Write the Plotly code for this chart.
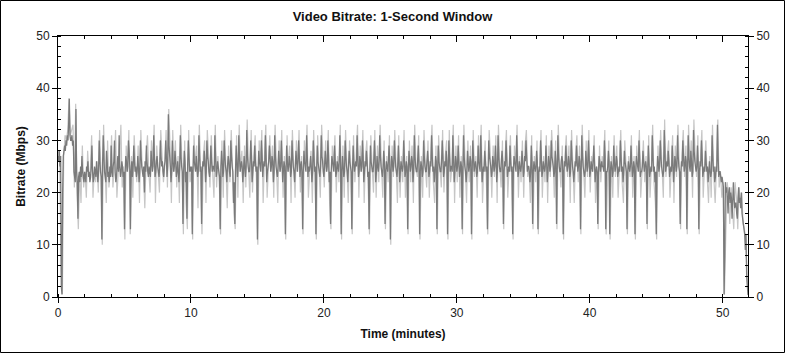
import plotly.graph_objects as go

# Dark series: bitrate sampled every 0.05 minute (rows = minutes 0..51, 20 values each)
bitrate_rows = [
    [27,26,28,25,27,2,0.5,20,27,28,29,28,30,29,31,30,33,38,31,30],
    [30,31,29,30,24,23,22,36,24,22,15,23,24,22,25,23,27,24,23,22],
    [24,23,22,25,24,26,23,24,22,23,25,29,24,22,23,25,24,23,26,24],
    [22,24,30,26,24,23,11,25,31,27,24,23,22,28,26,23,24,22,25,23],
    [29,24,23,25,26,30,24,22,23,25,27,24,31,25,23,24,26,25,23,24],
    [13,24,27,26,24,25,30,28,25,13,24,26,23,25,29,26,24,25,23,24],
    [27,25,22,24,30,27,25,24,23,25,20,26,24,29,26,24,23,25,24,23],
    [28,26,24,25,31,27,23,24,26,27,25,24,23,25,30,27,25,26,24,23],
    [25,26,30,27,23,25,35,29,27,25,22,24,30,26,24,25,28,26,23,24],
    [26,24,22,25,31,27,25,24,14,24,28,26,22,24,15,25,30,27,24,25],
    [24,25,12,24,29,26,25,24,27,25,23,24,31,27,24,25,14,24,26,25],
    [28,26,22,24,30,27,26,24,23,25,29,26,24,25,25,24,31,27,23,24],
    [26,25,24,23,13,25,28,26,23,24,30,27,25,24,22,25,27,26,24,23],
    [30,27,25,24,18,22,14,24,29,26,23,25,31,27,24,25,26,25,22,24],
    [27,25,23,25,32,27,25,24,24,26,30,27,22,24,26,25,29,26,24,25],
    [11,24,28,26,25,24,30,27,23,25,26,25,31,27,22,24,25,26,29,27],
    [24,25,27,26,22,24,31,27,25,24,23,25,28,26,24,25,30,26,22,24],
    [26,25,12,24,29,26,24,25,27,26,23,24,30,27,25,24,22,25,28,26],
    [24,26,30,27,23,25,26,24,13,24,28,26,25,24,31,27,23,25,24,25],
    [27,25,22,24,30,27,24,25,12,24,29,26,25,24,23,25,31,27,26,24],
    [23,25,28,26,24,25,30,27,22,24,14,24,27,26,25,24,29,26,23,24],
    [26,25,24,26,31,27,12,24,27,25,23,24,30,27,25,24,22,25,28,26],
    [25,24,13,24,29,26,24,25,26,25,31,27,23,24,27,26,24,25,30,27],
    [22,24,26,25,28,26,23,24,13,24,29,26,25,24,24,26,30,27,22,24],
    [27,25,24,26,31,27,25,24,23,25,28,26,14,24,26,25,24,26,29,26],
    [11,24,27,26,24,25,30,27,25,24,23,25,29,26,22,24,26,25,24,25],
    [30,27,23,24,26,25,13,24,28,26,24,25,27,26,22,24,31,27,25,24],
    [24,26,29,26,12,24,26,25,23,24,30,27,25,24,24,26,28,26,23,24],
    [26,25,31,27,24,25,22,24,27,26,13,24,29,26,25,24,24,26,30,27],
    [23,24,26,25,28,26,12,24,30,27,24,25,25,24,31,27,22,24,27,26],
    [24,25,29,26,23,24,26,25,13,24,31,27,25,24,22,24,28,26,24,25],
    [27,26,12,24,30,27,24,25,26,25,23,24,29,26,25,24,31,27,22,24],
    [25,24,28,26,24,25,13,24,30,27,26,25,23,24,27,26,24,25,29,26],
    [22,24,31,27,25,24,24,26,28,26,14,24,26,25,30,27,23,24,25,24],
    [29,26,24,25,12,24,27,26,25,24,31,27,23,24,26,25,24,25,28,26],
    [23,24,27,26,30,27,24,25,25,24,22,24,29,26,14,24,26,25,24,25],
    [28,26,13,24,25,24,30,27,23,24,26,25,24,25,29,26,22,24,27,26],
    [24,25,30,27,26,25,23,24,28,26,14,24,31,27,25,24,24,26,27,26],
    [12,24,26,25,29,26,24,25,27,26,23,24,30,27,25,24,22,24,26,25],
    [29,26,24,25,27,26,13,24,31,27,25,24,23,24,28,26,24,25,30,27],
    [23,24,26,25,24,26,29,26,22,24,25,24,14,24,27,26,24,25,26,25],
    [25,24,30,27,13,24,24,25,28,26,12,24,26,25,23,24,29,26,24,25],
    [27,26,23,24,25,24,30,27,24,25,22,24,28,26,25,24,13,24,26,25],
    [24,25,29,26,23,24,26,25,12,24,27,26,25,24,30,27,23,24,24,25],
    [28,26,24,25,26,25,14,24,29,26,23,24,25,24,31,27,24,25,22,24],
    [12,24,27,26,24,25,30,27,25,24,23,24,32,28,24,25,26,25,28,26],
    [23,24,25,24,29,26,22,24,27,26,24,25,31,27,25,24,14,24,26,25],
    [30,27,24,25,27,26,13,24,31,27,25,24,28,26,23,24,32,28,26,25],
    [24,25,29,26,13,24,26,25,30,27,23,24,25,24,28,26,24,25,22,24],
    [26,24,23,24,31,27,24,25,22,23,25,24,33,27,23,24,24,23,22,23],
    [22,21,0.5,8,22,20,21,19,16,20,21,18,20,19,15,18,22,19,17,18],
    [18,16,15,19,21,18,19,17,20,16,15,14,13,12,9,12,4,2,0.5,0.5],
]

# Light series: peak/trough values sampled every 0.1 minute
peak_rows = [
    [28,26,5,0.5,27,31,30,32,38,31],
    [32,33,21,37,20,13,24,18,29,21],
    [24,19,28,23,24,31,19,24,22,26],
    [20,32,24,10,33,25,18,30,21,24],
    [31,21,25,32,19,24,27,33,21,25],
    [11,29,24,32,12,27,19,31,25,22],
    [29,18,32,25,24,17,27,31,24,20],
    [30,25,33,18,29,24,20,32,27,22],
    [25,32,21,36,29,18,32,24,30,21],
    [27,18,33,25,12,30,18,13,32,22],
    [24,11,31,25,29,17,33,24,12,27],
    [30,18,32,27,21,31,24,19,33,21],
    [27,22,12,30,19,32,25,17,29,22],
    [32,25,16,13,31,19,33,24,28,18],
    [29,21,34,25,19,32,20,27,31,22],
    [10,30,25,32,18,27,33,19,25,31],
    [24,29,19,33,25,18,30,24,32,19],
    [27,11,31,24,29,18,32,25,19,30],
    [24,32,20,27,12,30,25,33,19,24],
    [28,18,32,24,11,31,25,19,33,27],
    [21,30,24,32,18,13,29,25,31,20],
    [27,22,33,11,29,19,32,25,18,30],
    [25,12,31,22,27,33,19,29,24,32],
    [18,27,30,21,12,31,25,20,32,19],
    [29,22,33,25,19,30,13,27,22,31],
    [10,29,23,32,25,18,31,19,27,22],
    [32,19,27,12,30,22,29,18,33,25],
    [23,31,11,27,19,32,25,21,30,19],
    [27,33,22,18,29,12,31,25,21,32],
    [20,27,30,11,32,22,25,33,18,29],
    [22,31,19,27,12,33,25,18,30,22],
    [29,11,32,23,27,19,31,25,33,18],
    [25,30,21,12,32,27,19,29,23,31],
    [18,33,25,21,30,13,27,32,19,25],
    [31,22,11,29,25,33,19,27,22,30],
    [19,29,32,23,25,18,31,13,27,22],
    [30,12,25,32,19,27,22,31,18,29],
    [23,32,27,19,30,13,33,25,21,29],
    [11,27,31,23,29,18,32,25,18,27],
    [31,22,29,12,33,25,19,30,23,32],
    [20,27,24,31,18,25,13,29,22,27],
    [25,32,12,22,30,11,27,19,31,23],
    [29,19,25,32,22,18,30,25,12,27],
    [23,31,19,27,11,29,25,32,19,24],
    [30,22,27,13,31,19,25,33,22,18],
    [11,29,23,32,25,19,34,23,27,30],
    [19,25,31,18,29,23,33,25,13,27],
    [32,23,29,12,33,25,30,19,34,27],
    [23,31,12,27,32,19,25,30,23,18],
    [27,19,33,23,18,25,34,21,24,19],
    [22,0.5,12,22,20,14,21,17,13,22],
    [19,13,21,18,20,14,13,11,4,0.5],
]

x_ticks = [0, 10, 20, 30, 40, 50]
y_ticks = [0, 10, 20, 30, 40, 50]
title_text = "Video Bitrate: 1-Second Window"
x_title = "Time (minutes)"
y_title = "Bitrate (Mbps)"

bitrate = [v for row in bitrate_rows for v in row]
t_dark = [i * 0.05 for i in range(len(bitrate))]
peaks = [v for row in peak_rows for v in row]
t_light = [i * 0.1 + 0.03 for i in range(len(peaks))]

fig = go.Figure()
fig.add_trace(go.Scatter(x=t_light, y=peaks, mode="lines",
                         line=dict(color="#c6c6c6", width=1.2, simplify=False),
                         hoverinfo="skip", showlegend=False))
fig.add_trace(go.Scatter(x=t_dark, y=bitrate, mode="lines",
                         line=dict(color="#7a7a7a", width=1.3, simplify=False),
                         showlegend=False))
# invisible trace on the secondary axes so they are drawn
fig.add_trace(go.Scatter(x=[0], y=[0], xaxis="x2", yaxis="y2", mode="markers",
                         marker=dict(opacity=0), showlegend=False, hoverinfo="skip"))

FONT = "Liberation Sans, Arial, sans-serif"
common = dict(showline=True, linecolor="black", linewidth=1, showgrid=False,
              zeroline=False, tickcolor="black", tickfont=dict(family=FONT, size=12, color="#222"))

fig.update_layout(
    width=785, height=353,
    margin=dict(l=58, r=37, t=36, b=56),
    paper_bgcolor="white", plot_bgcolor="white",
    title=dict(text=title_text, x=0.5, xanchor="center", y=0.952, yanchor="middle",
               font=dict(family=FONT, size=13, color="#111", weight="bold")),
    xaxis=dict(range=[0, 51.9], tickvals=x_ticks, ticks="outside", ticklen=5,
               minor=dict(dtick=2, ticks="inside", ticklen=3, tickcolor="black"),
               title=dict(text=x_title, font=dict(family=FONT, size=12, color="#111", weight="bold"),
                          standoff=10),
               **common),
    xaxis2=dict(range=[0, 51.9], overlaying="x", side="top", tickvals=x_ticks,
                ticks="inside", ticklen=6, showticklabels=False,
                minor=dict(dtick=2, ticks="inside", ticklen=3, tickcolor="black"),
                **common),
    yaxis=dict(range=[0, 50], tickvals=y_ticks, ticks="outside", ticklen=5,
               minor=dict(dtick=2, ticks="inside", ticklen=3, tickcolor="black"),
               title=dict(text=y_title, font=dict(family=FONT, size=12, color="#111", weight="bold"),
                          standoff=8),
               **common),
    yaxis2=dict(range=[0, 50], overlaying="y", side="right", tickvals=y_ticks,
                ticks="outside", ticklen=5,
                minor=dict(dtick=2, ticks="inside", ticklen=3, tickcolor="black"),
                **common),
    shapes=[dict(type="rect", xref="paper", yref="paper",
                 x0=-57.5/690, x1=726.5/690, y0=-55.5/261, y1=296.5/261,
                 line=dict(color="black", width=1), fillcolor="rgba(0,0,0,0)")],
)

fig.write_html("out.html")
